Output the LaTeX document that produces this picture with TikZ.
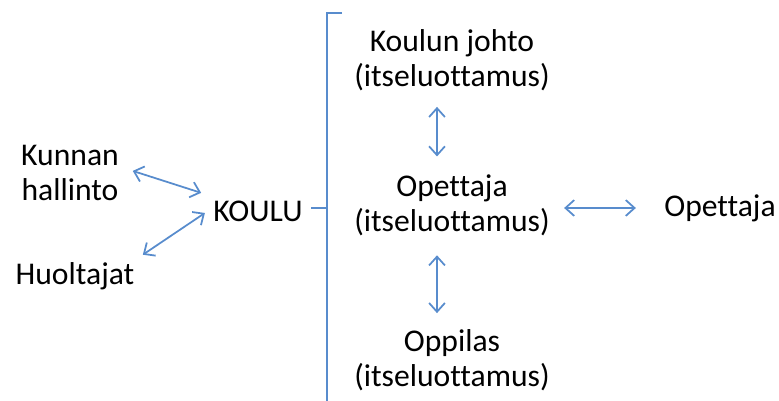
\documentclass[tikz,border=0pt]{standalone}
\usepackage{fontspec}
\usepackage{xcolor}
\usetikzlibrary{arrows.meta}
\setmainfont[Ligatures=NoCommon]{Carlito}
\definecolor{linkblue}{RGB}{88, 140, 205}

\begin{document}
\begin{tikzpicture}[
  x=0.02cm, y=-0.02cm,
  lbl/.style={align=center, inner sep=3pt, font=\fontsize{18}{20}\selectfont},
  arrow/.style={{Straight Barb[length=5pt,width=9pt]}-{Straight Barb[length=5pt,width=9pt]},
    line width=1pt, color=linkblue}
]
  \useasboundingbox (0,0) rectangle (779,401);

  \node[lbl] (kunta) at (70,173) {Kunnan\\hallinto};
  \node[lbl] (huoltajat) at (75,276) {Huoltajat};
  \node[lbl] (koulu) at (258,211) {KOULU};
  \node[lbl] (johto) at (452,60) {Koulun johto\\(itseluottamus)};
  \node[lbl] (opettaja) at (452,205) {Opettaja\\(itseluottamus)};
  \node[lbl] (oppilas) at (452,360) {Oppilas\\(itseluottamus)};
  \node[lbl] (toinen) at (720,208) {Opettaja};

  % sulku koulun ja tasojen valissa
  \draw[linkblue, line width=1pt] (342,13) -- (327,13) -- (327,405);
  \draw[linkblue, line width=1pt] (327,208) -- (311,208);

  \draw[arrow, shorten <=5pt, shorten >=4pt] (kunta.5) -- (koulu.north west);
  \draw[arrow, shorten <=2pt, shorten >=2pt] (huoltajat.north east) -- (koulu.west);
  \draw[arrow, shorten <=6pt, shorten >=7pt] ([xshift=-0.3cm]johto.south) -- ([xshift=-0.3cm]opettaja.north);
  \draw[arrow, shorten <=8pt, shorten >=6pt] ([xshift=-0.3cm]opettaja.south) -- ([xshift=-0.3cm]oppilas.north);
  \draw[arrow, shorten <=5pt, shorten >=13pt] (opettaja.east |- toinen.west) -- (toinen.west);
\end{tikzpicture}
\end{document}
